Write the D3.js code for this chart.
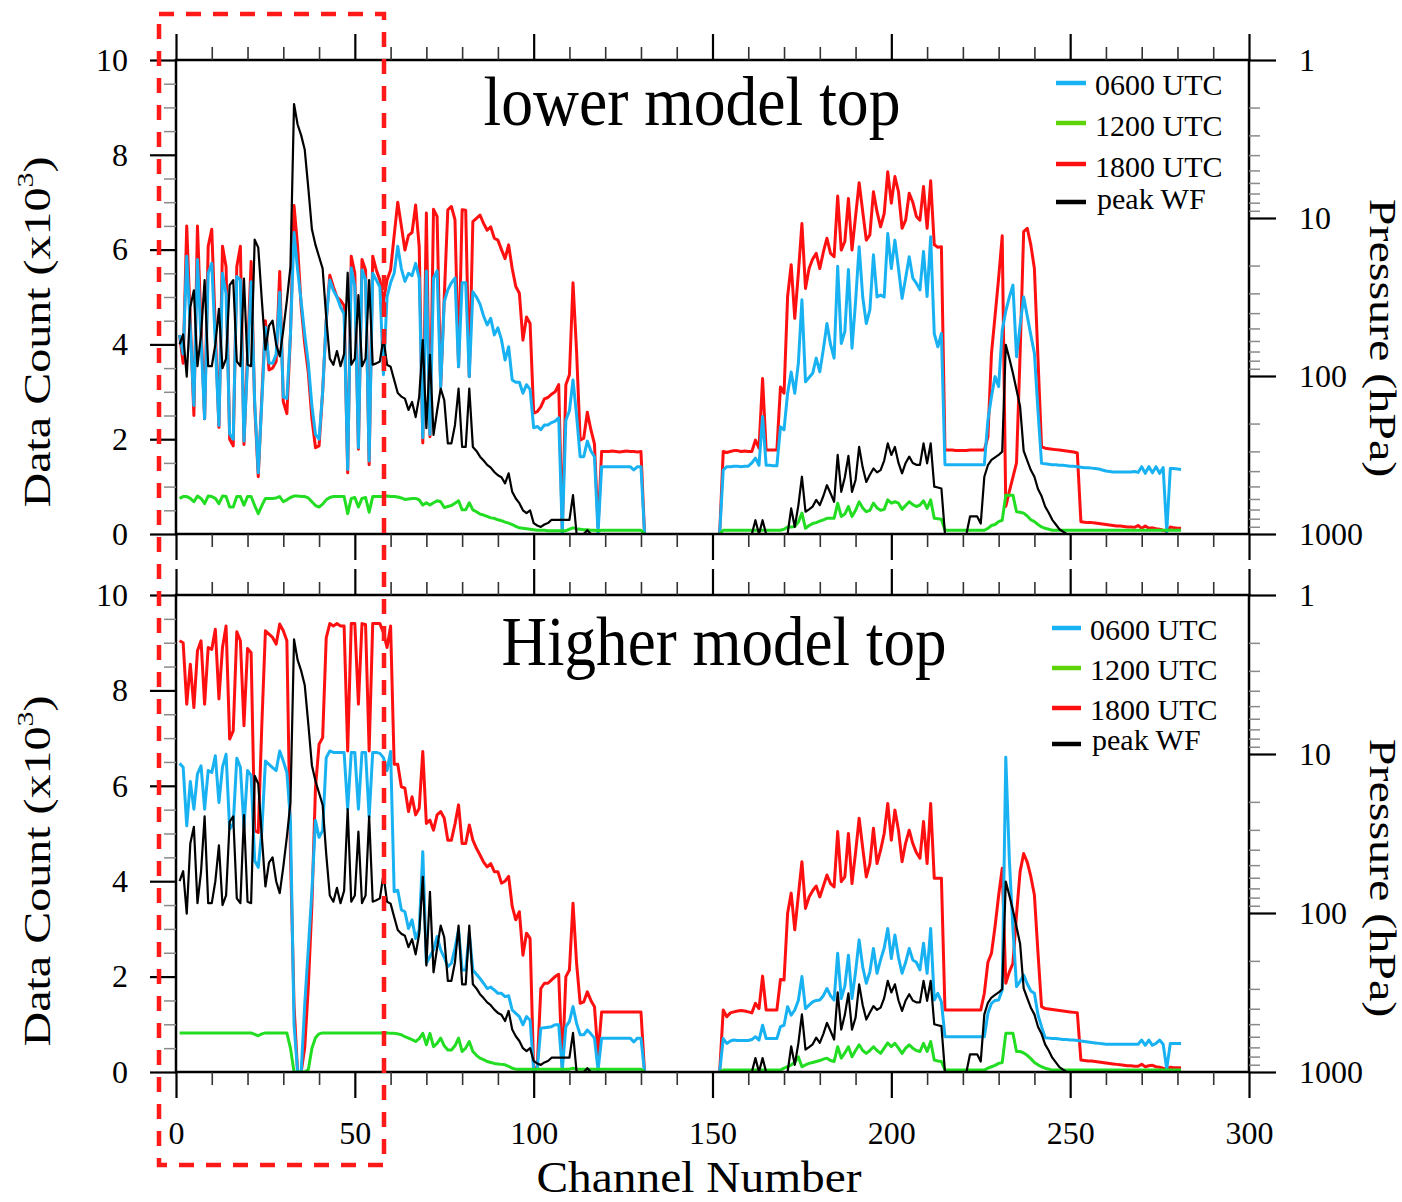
<!DOCTYPE html>
<html>
<head>
<meta charset="utf-8">
<script src="https://cdn.jsdelivr.net/npm/d3@7"></script>
<style>
  body { margin: 0; background: #fff; }
  svg { display: block; }
</style>
</head>
<body>
<svg id="chart" width="1402" height="1202"></svg>
<script>
// ---------- data ----------
const channels = d3.range(1, 282);               // AIRS channel index 1..281
const xTicks = [0, 50, 100, 150, 200, 250, 300];
const countTicks = [0, 2, 4, 6, 8, 10];
const pressureTicks = [1, 10, 100, 1000];
const seriesNames = ["0600 UTC", "1200 UTC", "1800 UTC", "peak WF"];
const panelTitles = ["lower model top", "Higher model top"];

// data counts (x10^3), lower model top
const lowTop0600 = [
4.2,3.8,5.86,4.3,2.71,5.79,4.1,2.43,5.5,5.71,
4.0,2.29,5.5,5.07,2.11,2.0,5.43,5.36,1.96,3.6,
5.32,2.79,1.29,2.8,4.36,3.61,3.6,3.79,5.1,2.89,
2.86,4.21,6.36,5.57,4.9,4.2,3.6,2.7,2.1,2.0,
3.0,4.5,5.36,5.14,5.0,4.79,4.64,1.36,5.61,5.21,
1.82,5.57,5.36,1.54,5.5,5.36,5.21,3.36,5.0,5.3,
5.5,6.07,5.6,5.33,5.5,5.45,5.71,5.4,2.03,5.55,
2.1,5.4,5.55,3.1,4.9,5.15,5.3,5.4,3.53,5.3,
5.3,3.32,5.11,5.0,4.85,4.6,4.41,4.55,4.2,4.35,
4.1,3.67,3.95,3.25,3.2,3.2,2.97,3.15,3.05,2.24,
2.27,2.2,2.3,2.3,2.35,2.38,2.45,0.02,2.4,2.6,
3.25,2.5,1.63,1.63,1.96,1.75,1.63,0.02,1.42,1.42,
1.42,1.42,1.42,1.42,1.42,1.42,1.42,1.35,1.42,1.42,
0,null,null,null,null,null,null,null,null,null,
null,null,null,null,null,null,null,null,null,null,
null,0,1.35,1.42,1.42,1.43,1.43,1.42,1.43,1.43,
1.5,1.6,1.45,2.48,1.45,1.45,1.44,1.44,2.26,2.2,
2.97,3.42,2.97,3.6,4.94,3.21,3.3,3.39,3.71,3.42,
3.9,4.44,4.0,3.71,5.65,4.02,4.27,5.58,3.92,4.9,
6.06,5.0,4.44,4.73,5.89,5.0,5.04,5.0,6.34,5.6,
6.2,5.6,4.97,5.4,5.85,5.4,5.29,5.15,5.96,5.01,
6.27,4.23,3.95,4.23,1.46,1.46,1.46,1.46,1.46,1.46,
1.46,1.46,1.46,1.46,1.46,1.46,2.4,2.9,3.32,3.11,
4.3,4.7,5.0,5.25,3.74,4.4,5.0,4.6,4.2,3.81,
2.6,1.49,1.48,1.47,1.46,1.46,1.45,1.45,1.44,1.43,
1.43,1.42,1.41,1.4,1.4,1.39,1.38,1.37,1.35,1.33,
1.32,1.31,1.31,1.31,1.31,1.31,1.31,1.32,1.3,1.42,
1.28,1.42,1.29,1.42,1.28,1.4,0.05,1.38,1.38,1.37,
1.36];

const lowTop1200 = [
0.75,0.79,0.79,0.75,0.68,0.8,0.75,0.64,0.8,0.79,
0.75,0.64,0.8,0.79,0.57,0.57,0.79,0.79,0.61,0.79,
0.79,0.6,0.43,0.6,0.75,0.75,0.75,0.76,0.79,0.68,
0.72,0.77,0.8,0.8,0.79,0.79,0.76,0.68,0.6,0.57,
0.63,0.72,0.77,0.79,0.79,0.79,0.79,0.43,0.75,0.77,
0.57,0.75,0.77,0.46,0.79,0.79,0.79,0.79,0.8,0.79,
0.79,0.78,0.76,0.73,0.74,0.75,0.75,0.72,0.61,0.66,
0.61,0.66,0.7,0.68,0.56,0.58,0.6,0.65,0.7,0.51,
0.51,0.66,0.51,0.47,0.42,0.4,0.37,0.34,0.33,0.3,
0.28,0.25,0.23,0.2,0.16,0.13,0.12,0.11,0.1,0.09,
0.08,0.08,0.08,0.07,0.07,0.07,0.07,0.07,0.07,0.1,
0.13,0.11,0.1,0.09,0.09,0.08,0.08,0.07,0.08,0.08,
0.08,0.08,0.08,0.08,0.08,0.08,0.08,0.08,0.08,0.08,
0,null,null,null,null,null,null,null,null,null,
null,null,null,null,null,null,null,null,null,null,
null,0,0.08,0.08,0.08,0.08,0.08,0.08,0.08,0.08,
0.08,0.08,0.08,0.08,0.08,0.08,0.08,0.08,0.08,0.1,
0.15,0.15,0.16,0.25,0.44,0.12,0.18,0.22,0.24,0.27,
0.3,0.33,0.33,0.33,0.65,0.37,0.42,0.58,0.37,0.5,
0.68,0.55,0.47,0.5,0.65,0.55,0.5,0.52,0.72,0.65,
0.68,0.65,0.52,0.6,0.68,0.62,0.58,0.61,0.7,0.54,
0.72,0.33,0.32,0.31,0.08,0.08,0.08,0.08,0.08,0.08,
0.08,0.08,0.08,0.08,0.08,0.08,0.12,0.18,0.2,0.26,
0.29,0.82,0.82,0.82,0.47,0.46,0.44,0.38,0.3,0.26,
0.2,0.15,0.12,0.1,0.08,0.08,0.08,0.08,0.08,0.08,
0.08,0.08,0.08,0.08,0.08,0.08,0.08,0.08,0.08,0.08,
0.08,0.08,0.08,0.08,0.08,0.08,0.08,0.08,0.08,0.08,
0.08,0.08,0.08,0.08,0.08,0.08,0.08,0.08,0.08,0.08,
0.08];

const lowTop1800 = [
4.2,3.6,6.5,4.5,2.5,6.5,4.4,2.43,6.07,6.43,
4.3,2.25,6.07,5.64,2.0,1.86,5.64,6.07,1.89,3.8,
5.75,2.7,1.21,2.9,4.5,3.46,3.5,3.64,5.54,2.79,
2.54,4.2,6.93,6.07,4.79,4.0,3.4,2.43,1.82,1.86,
3.0,4.5,5.46,5.21,5.0,4.93,4.82,1.29,5.86,5.5,
1.79,5.79,5.57,1.46,5.86,5.57,5.36,4.9,5.36,5.57,
6.3,7.0,6.5,5.99,6.3,6.36,6.94,6.06,1.92,6.77,
2.05,6.85,6.7,3.1,5.0,6.84,6.91,6.63,3.53,6.84,
6.83,3.32,6.59,6.66,6.73,6.55,6.41,6.48,6.24,6.2,
6.0,5.81,6.1,5.6,5.22,5.08,4.09,4.58,4.44,2.55,
2.58,2.68,2.85,2.88,2.95,3.0,3.15,0.08,3.15,3.36,
5.3,3.85,1.98,2.02,2.57,2.2,1.9,0.15,1.74,1.74,
1.74,1.75,1.74,1.73,1.74,1.75,1.74,1.74,1.73,1.74,
0,null,null,null,null,null,null,null,null,null,
null,null,null,null,null,null,null,null,null,null,
null,0,1.74,1.72,1.74,1.76,1.76,1.74,1.75,1.74,
1.74,1.98,1.81,3.28,1.77,1.77,1.77,1.77,3.1,2.97,
5.01,5.68,4.55,5.5,6.55,5.18,5.6,5.8,5.92,5.6,
5.95,6.24,5.92,5.85,7.13,5.99,6.17,7.08,5.99,6.7,
7.41,6.8,6.2,6.31,7.22,6.8,6.48,6.76,7.64,6.98,
7.54,7.22,6.45,6.62,7.19,7.0,6.7,6.62,7.33,6.45,
7.45,6.1,6.05,6.06,1.77,1.77,1.77,1.76,1.76,1.76,
1.76,1.77,1.77,1.77,1.77,1.77,2.05,3.81,4.6,5.4,
6.29,0.58,0.9,1.2,1.5,3.8,6.38,6.45,6.1,5.6,
3.7,1.84,1.81,1.8,1.79,1.78,1.77,1.76,1.75,1.74,
1.73,1.71,0.26,0.25,0.24,0.24,0.23,0.22,0.21,0.2,
0.19,0.18,0.17,0.17,0.16,0.15,0.15,0.14,0.18,0.12,
0.17,0.12,0.13,0.11,0.1,0.08,0.05,0.15,0.13,0.12,
0.12];

// data counts (x10^3), higher model top
const highTop0600 = [
6.47,6.39,5.16,6.09,5.51,6.25,6.42,5.51,6.32,6.28,
6.63,5.65,6.39,6.66,5.09,5.2,6.58,6.39,5.13,6.32,
6.22,4.43,4.29,5.06,6.52,6.45,6.38,6.32,6.73,6.52,
6.28,5.27,1.0,0,0,1.43,2.6,3.8,5.27,4.92,
5.06,6.59,6.73,6.7,6.7,6.7,6.7,5.51,6.7,6.7,
5.51,6.7,6.7,5.35,6.7,6.7,6.68,6.59,6.32,6.72,
3.78,3.81,3.4,3.36,3.01,3.19,2.8,2.98,4.62,2.28,
2.42,2.56,2.84,2.56,2.4,2.21,2.28,2.6,2.98,2.14,
2.14,2.91,2.14,2.05,1.96,1.86,1.75,1.78,1.72,1.65,
1.65,1.58,1.6,1.3,1.23,1.16,0.99,1.16,1.09,0.04,
0.07,0.92,0.93,0.94,0.95,0.99,0.99,0.04,0.95,1.06,
1.37,1.02,0.78,0.78,0.88,0.8,0.71,0.04,0.71,0.71,
0.71,0.71,0.71,0.71,0.71,0.71,0.71,0.63,0.71,0.71,
0,null,null,null,null,null,null,null,null,null,
null,null,null,null,null,null,null,null,null,null,
null,0,0.7,0.6,0.65,0.67,0.66,0.66,0.66,0.66,
0.68,0.74,0.67,0.98,0.7,0.7,0.7,0.7,0.95,0.98,
1.37,1.19,1.3,1.5,2.0,1.33,1.4,1.47,1.5,1.51,
1.6,1.75,1.6,1.51,2.49,1.54,1.8,2.45,1.54,2.1,
2.77,2.2,1.86,2.1,2.59,2.07,2.35,2.6,3.01,2.38,
2.87,2.4,2.07,2.3,2.59,2.35,2.3,2.14,2.7,2.07,
3.01,1.51,1.65,1.47,0.74,0.74,0.74,0.74,0.74,0.74,
0.74,0.74,0.74,0.74,0.74,0.74,1.23,1.44,1.5,1.51,
1.72,6.6,4.44,3.0,1.79,1.9,2.03,1.85,1.7,1.65,
1.2,0.95,0.72,0.71,0.7,0.7,0.69,0.68,0.68,0.67,
0.67,0.66,0.65,0.64,0.63,0.62,0.61,0.6,0.59,0.58,
0.58,0.58,0.58,0.58,0.58,0.58,0.58,0.58,0.58,0.67,
0.56,0.67,0.56,0.6,0.67,0.58,0.07,0.6,0.6,0.6,
0.6];

const highTop1200 = [
0.82,0.82,0.82,0.82,0.82,0.82,0.82,0.82,0.82,0.82,
0.82,0.82,0.82,0.82,0.82,0.82,0.82,0.82,0.82,0.82,
0.82,0.79,0.76,0.8,0.82,0.82,0.82,0.82,0.82,0.82,
0.82,0.5,0,0,0,0,0.05,0.5,0.72,0.8,
0.82,0.82,0.82,0.82,0.82,0.82,0.82,0.82,0.82,0.82,
0.82,0.82,0.82,0.82,0.82,0.82,0.82,0.82,0.82,0.81,
0.81,0.8,0.78,0.74,0.71,0.68,0.64,0.7,0.81,0.57,
0.81,0.53,0.6,0.71,0.55,0.46,0.46,0.55,0.71,0.43,
0.5,0.64,0.43,0.35,0.29,0.26,0.22,0.2,0.18,0.17,
0.16,0.15,0.12,0.08,0.06,0.06,0.06,0.06,0.06,0.06,
0.06,0.06,0.06,0.06,0.06,0.06,0.06,0.06,0.06,0.06,
0.08,0.06,0.06,0.06,0.06,0.06,0.06,0.06,0.06,0.06,
0.06,0.06,0.06,0.06,0.06,0.06,0.06,0.06,0.06,0.06,
0,null,null,null,null,null,null,null,null,null,
null,null,null,null,null,null,null,null,null,null,
null,0,0.04,0.04,0.04,0.04,0.04,0.04,0.04,0.04,
0.04,0.04,0.04,0.04,0.04,0.04,0.04,0.04,0.04,0.08,
0.11,0.15,0.2,0.32,0.11,0.15,0.18,0.2,0.22,0.24,
0.27,0.29,0.24,0.22,0.53,0.29,0.4,0.53,0.32,0.45,
0.57,0.45,0.39,0.45,0.53,0.45,0.39,0.5,0.61,0.53,
0.6,0.5,0.39,0.5,0.57,0.5,0.45,0.43,0.6,0.43,
0.64,0.25,0.23,0.22,0.04,0.04,0.04,0.04,0.04,0.04,
0.04,0.04,0.04,0.04,0.04,0.04,0.08,0.11,0.14,0.18,
0.2,0.81,0.81,0.81,0.43,0.43,0.4,0.35,0.28,0.2,
0.15,0.11,0.08,0.06,0.04,0.04,0.04,0.04,0.04,0.04,
0.04,0.04,0.04,0.04,0.04,0.04,0.04,0.04,0.04,0.04,
0.04,0.04,0.04,0.04,0.04,0.04,0.04,0.04,0.04,0.04,
0.04,0.04,0.04,0.04,0.04,0.04,0.04,0.04,0.04,0.04,
0.04];

const highTop1800 = [
9.04,9.0,7.71,8.55,7.64,8.83,9.04,7.71,8.9,8.86,
9.28,7.82,8.9,9.35,6.98,7.15,9.23,9.04,7.26,8.88,
8.79,5.06,5.02,7.29,9.25,9.18,9.11,8.97,9.39,9.25,
9.04,4.6,1.4,0,0,0.52,1.8,3.5,5.97,6.87,
7.01,9.1,9.4,9.35,9.4,9.35,9.35,6.73,9.4,9.4,
7.71,9.4,9.38,6.73,9.4,9.4,9.4,9.21,8.9,9.35,
6.45,6.45,5.98,5.95,5.46,5.77,5.39,5.53,6.72,5.21,
5.28,5.07,5.39,5.46,5.32,4.86,4.86,5.2,5.6,4.79,
4.79,5.18,4.86,4.69,4.55,4.4,4.3,4.37,4.2,4.2,
3.96,4.0,4.1,3.47,3.19,3.36,2.45,2.91,2.8,0.04,
0.11,1.75,1.86,1.86,1.93,2.0,2.05,0.08,2.0,2.14,
3.54,2.28,1.44,1.47,1.68,1.5,1.37,0.36,1.26,1.26,
1.26,1.26,1.26,1.26,1.26,1.26,1.26,1.26,1.26,1.26,
0,null,null,null,null,null,null,null,null,null,
null,null,null,null,null,null,null,null,null,null,
null,0,1.3,1.16,1.24,1.26,1.28,1.29,1.28,1.26,
1.24,1.44,1.33,2.01,1.3,1.3,1.3,1.3,1.94,1.93,
3.33,3.75,2.98,3.7,4.41,3.43,3.67,3.8,3.9,3.67,
3.9,4.13,3.95,3.88,5.04,3.99,4.09,5.0,3.95,4.6,
5.32,4.7,4.09,4.37,5.11,4.37,4.65,5.0,5.63,4.86,
5.49,5.07,4.41,4.8,5.07,4.79,4.6,4.48,5.25,4.37,
5.63,4.06,4.06,4.06,1.3,1.3,1.3,1.3,1.3,1.3,
1.3,1.3,1.3,1.3,1.3,1.65,2.3,2.49,3.05,3.7,
4.27,1.86,2.1,2.28,3.3,4.2,4.58,4.4,4.1,3.71,
2.5,1.37,1.33,1.32,1.31,1.3,1.29,1.28,1.27,1.26,
1.25,1.24,0.25,0.24,0.23,0.23,0.22,0.21,0.2,0.19,
0.18,0.17,0.16,0.15,0.14,0.13,0.13,0.12,0.12,0.16,
0.11,0.13,0.14,0.11,0.1,0.08,0.07,0.1,0.09,0.09,
0.09];

// pressure (hPa) of the weighting-function peak, same for both model tops
const peakWF = [
63.1,54.6,101,36.6,28.7,86.7,55,24.7,86.7,86.7,
63.1,37.6,89.1,77.6,26.6,24.7,80.9,86.7,24.2,84.9,
86.7,13.7,15.4,33.2,68.1,48.2,44.7,63.1,75,51.3,
33.2,20.3,1.9,2.56,3.0,3.7,6.5,11.8,14.8,17.6,
20.9,42.6,77.6,84.9,69.5,86.7,72.4,22.2,84.9,77.6,
30.8,86.7,77.6,24.7,84.9,83.2,80.9,57.3,84.9,87.3,
106,128,135,139,164,146,182,135,59.3,214,
73.5,236,166,120,142,267,267,204,120,281,
281,120,281,298,324,343,365,380,405,425,
437,478,413,541,596,638,708,738,708,853,
883,902,871,853,813,813,813,813,813,813,
568,1000,1000,1000,946,1000,1000,1000,1000,1000,
1000,1000,1000,1000,1000,1000,1000,1000,1000,1000,
1000,1000,1000,1000,1000,1000,1000,1000,1000,1000,
1000,1000,1000,1000,1000,1000,1000,1000,1000,1000,
1000,1000,1000,1000,1000,1000,1000,1000,1000,1000,
1000,818,1000,818,1000,1000,1000,1000,1000,1000,
1000,689,902,661,434,723,698,670,608,656,
575,491,552,625,316,541,437,320,541,455,
281,380,468,422,385,407,394,343,267,316,
281,355,413,355,324,355,365,365,267,357,
267,501,508,515,1000,1000,1000,1000,1000,1000,
1000,774,774,774,859,434,367,340,327,316,
301,63.5,77.6,96.2,122,156,298,343,394,434,
519,575,670,733,813,871,933,966,1000,1000,
1000,1000,1000,1000,1000,1000,1000,1000,1000,1000,
1000,1000,1000,1000,1000,1000,1000,1000,1000,1000,
1000,1000,1000,1000,1000,1000,1000,1000,1000,1000,
1000];

// ---------- styles & layout ----------
const FONT = "'Liberation Serif', 'Times New Roman', Times, serif";
const colors = { c0600: "#18b2f2", c1200: "#22dd22", c1800: "#ff1010", wf: "#000000" };
const legendColors = [colors.c0600, "#5fd30a", colors.c1800, colors.wf];

const svg = d3.select("#chart");
const x = d3.scaleLinear().domain([0, 300]).range([176, 1249]);

const panels = [
  { id: "low", top: 60, bottom: 534, title: panelTitles[0], titleX: 692, titleY: 125, titleLen: 417,
    s0600: lowTop0600, s1200: lowTop1200, s1800: lowTop1800,
    legend: { x1: 1056, x2: 1086, tx: [1095, 1095, 1095, 1097], ly: [83, 123, 164, 202], ty: [95, 136, 177, 209] },
    yLabelY: 332, pLabelY: 338, xLabels: false },
  { id: "high", top: 595, bottom: 1072, title: panelTitles[1], titleX: 724, titleY: 665, titleLen: 445,
    s0600: highTop0600, s1200: highTop1200, s1800: highTop1800,
    legend: { x1: 1052, x2: 1081, tx: [1090, 1090, 1090, 1092], ly: [628, 668, 708, 744], ty: [640, 680, 720, 750] },
    yLabelY: 871, pLabelY: 878, xLabels: true }
];

const minorX = d3.range(10, 300, 10).filter(v => v % 50 !== 0);
const minorCount = d3.range(0.5, 10, 0.5).filter(v => v % 2 !== 0);
const minorP = [2,3,4,5,6,7,8,9,20,30,40,50,60,70,80,90,200,300,400,500,600,700,800,900];

function styleAxis(g, opts) {
  g.select(".domain").remove();
  g.attr("font-family", FONT).attr("font-size", 32);
  g.selectAll("line").attr("stroke", opts.stroke || "#000").attr("stroke-width", opts.width || 2);
  g.selectAll("text").attr("fill", "#000");
}

panels.forEach(P => {
  const y = d3.scaleLinear().domain([0, 10]).range([P.bottom, P.top]);
  const p = d3.scaleLog().domain([1, 1000]).range([P.top, P.bottom]);
  const g = svg.append("g").attr("class", "panel-" + P.id);

  const clipId = "clip-" + P.id;
  svg.append("clipPath").attr("id", clipId).append("rect")
    .attr("x", x(0)).attr("y", P.top).attr("width", x(300) - x(0)).attr("height", P.bottom - P.top);

  const plot = g.append("g").attr("clip-path", `url(#${clipId})`);
  const countLine = d3.line().defined(d => d[1] != null).x(d => x(d[0])).y(d => y(d[1]));
  const wfLine = d3.line().x(d => x(d[0])).y(d => p(d[1]));
  const pair = arr => channels.map((c, i) => [c, arr[i]]);

  plot.append("path").attr("d", countLine(pair(P.s1800))).attr("fill", "none")
    .attr("stroke", colors.c1800).attr("stroke-width", 3).attr("stroke-linejoin", "round");
  plot.append("path").attr("d", countLine(pair(P.s0600))).attr("fill", "none")
    .attr("stroke", colors.c0600).attr("stroke-width", 3).attr("stroke-linejoin", "round");
  plot.append("path").attr("d", countLine(pair(P.s1200))).attr("fill", "none")
    .attr("stroke", colors.c1200).attr("stroke-width", 3).attr("stroke-linejoin", "round");
  plot.append("path").attr("d", wfLine(pair(peakWF))).attr("fill", "none")
    .attr("stroke", colors.wf).attr("stroke-width", 2.2).attr("stroke-linejoin", "round");

  // frame
  g.append("rect").attr("x", x(0)).attr("y", P.top).attr("width", x(300) - x(0))
    .attr("height", P.bottom - P.top).attr("fill", "none").attr("stroke", "#000").attr("stroke-width", 2.5);

  // x ticks, top and bottom edges (outward)
  g.append("g").attr("transform", `translate(0,${P.top})`)
    .call(d3.axisTop(x).tickValues(xTicks).tickSize(26).tickFormat(""))
    .call(a => styleAxis(a, { width: 2.2 }));
  g.append("g").attr("transform", `translate(0,${P.top})`)
    .call(d3.axisTop(x).tickValues(minorX).tickSize(13).tickFormat(""))
    .call(a => styleAxis(a, { width: 1.6, stroke: "#333" }));
  g.append("g").attr("transform", `translate(0,${P.bottom})`)
    .call(d3.axisBottom(x).tickValues(xTicks).tickSize(26).tickPadding(23)
      .tickFormat(P.xLabels ? d3.format("d") : ""))
    .call(a => styleAxis(a, { width: 2.2 }));
  g.append("g").attr("transform", `translate(0,${P.bottom})`)
    .call(d3.axisBottom(x).tickValues(minorX).tickSize(13).tickFormat(""))
    .call(a => styleAxis(a, { width: 1.6, stroke: "#333" }));

  // left count axis
  g.append("g").attr("transform", `translate(${x(0)},0)`)
    .call(d3.axisLeft(y).tickValues(countTicks).tickSize(26).tickPadding(22).tickFormat(d3.format("d")))
    .call(a => styleAxis(a, { width: 2.2 }));
  g.append("g").attr("transform", `translate(${x(0)},0)`)
    .call(d3.axisLeft(y).tickValues(minorCount).tickSize(12).tickFormat(""))
    .call(a => styleAxis(a, { width: 1.5, stroke: "#8a8a8a" }));

  // right pressure axis
  g.append("g").attr("transform", `translate(${x(300)},0)`)
    .call(d3.axisRight(p).tickValues(pressureTicks).tickSize(27).tickPadding(23).tickFormat(d3.format("d")))
    .call(a => styleAxis(a, { width: 2.2 }));
  g.append("g").attr("transform", `translate(${x(300)},0)`)
    .call(d3.axisRight(p).tickValues(minorP).tickSize(11).tickFormat(""))
    .call(a => styleAxis(a, { width: 1.5, stroke: "#8a8a8a" }));

  // title
  g.append("text").attr("x", P.titleX).attr("y", P.titleY).attr("text-anchor", "middle")
    .attr("font-family", FONT).attr("font-size", 69)
    .attr("textLength", P.titleLen).attr("lengthAdjust", "spacingAndGlyphs")
    .text(P.title);

  // y axis titles
  const yl = g.append("text")
    .attr("transform", `translate(50,${P.yLabelY}) scale(0.8,1) rotate(-90)`)
    .attr("text-anchor", "middle").attr("font-family", FONT).attr("font-size", 48);
  yl.append("tspan").text("Data Count (x10");
  yl.append("tspan").attr("font-size", 30).attr("dy", -21).text("3");
  yl.append("tspan").attr("dy", 21).text(")");

  g.append("text")
    .attr("transform", `translate(1370,${P.pLabelY}) scale(0.78,1) rotate(90)`)
    .attr("text-anchor", "middle").attr("font-family", FONT).attr("font-size", 48)
    .text("Pressure (hPa)");

  // legend
  const L = P.legend;
  seriesNames.forEach((name, i) => {
    g.append("line").attr("x1", L.x1).attr("x2", L.x2).attr("y1", L.ly[i]).attr("y2", L.ly[i])
      .attr("stroke", legendColors[i]).attr("stroke-width", 4.5);
    g.append("text").attr("x", L.tx[i]).attr("y", L.ty[i])
      .attr("font-family", FONT).attr("font-size", 30).text(name);
  });
});

// x axis title
svg.append("text").attr("x", 699).attr("y", 1192).attr("text-anchor", "middle")
  .attr("font-family", FONT).attr("font-size", 44)
  .attr("textLength", 325).attr("lengthAdjust", "spacingAndGlyphs")
  .text("Channel Number");

// highlight box around the first channels
svg.append("rect").attr("x", 159).attr("y", 14).attr("width", 225).attr("height", 1151)
  .attr("fill", "none").attr("stroke", "#ff1a1a").attr("stroke-width", 4.5)
  .attr("stroke-dasharray", "15,12");
</script>
</body>
</html>
